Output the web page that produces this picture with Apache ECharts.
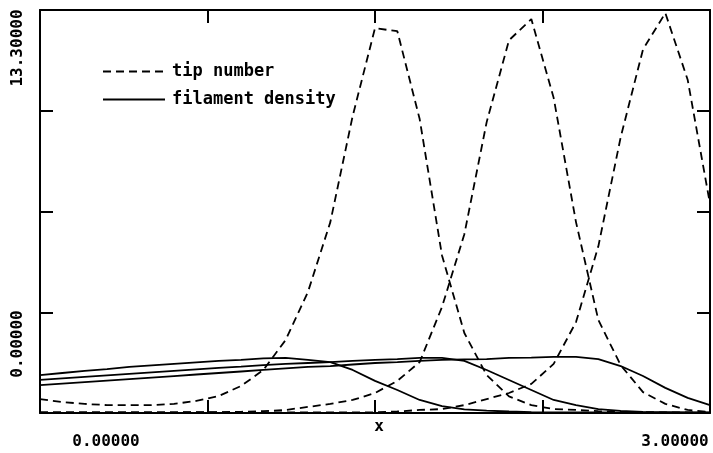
<!DOCTYPE html>
<html>
<head>
<meta charset="utf-8">
<script src="https://cdn.jsdelivr.net/npm/echarts@6/dist/echarts.min.js"></script>
<style>
	html, body { margin: 0; padding: 0; background: #fff; }
	#chart { width: 713px; height: 453px; }
</style>
</head>
<body>
<div id="chart"></div>
<script>
// x grid of the model output
var xs = [0, 0.1, 0.2, 0.3, 0.4, 0.5, 0.6, 0.7, 0.8, 0.9, 1.0, 1.1, 1.2, 1.3, 1.4, 1.5,
	1.6, 1.7, 1.8, 1.9, 2.0, 2.1, 2.2, 2.3, 2.4, 2.5, 2.6, 2.7, 2.8, 2.9, 3.0];

// tip number (dashed), three time steps
var tip1 = [0.46, 0.36, 0.30, 0.26, 0.26, 0.26, 0.30, 0.40, 0.56, 0.89, 1.42, 2.41, 4.0, 6.3, 9.8, 12.7,
	12.6, 9.7, 5.2, 2.64, 1.25, 0.55, 0.26, 0.13, 0.1, 0.06, 0.04, 0.03, 0.02, 0.02, 0.02];
var tip2 = [0.02, 0.02, 0.02, 0.02, 0.02, 0.02, 0.02, 0.03, 0.03, 0.04, 0.06, 0.1, 0.2, 0.3, 0.43, 0.66,
	1.06, 1.68, 3.5, 5.9, 9.6, 12.3, 13.0, 10.4, 6.3, 3.07, 1.58, 0.69, 0.3, 0.1, 0.03];
var tip3 = [0.02, 0.02, 0.02, 0.02, 0.02, 0.02, 0.02, 0.02, 0.02, 0.02, 0.02, 0.02, 0.02, 0.02, 0.02, 0.02,
	0.05, 0.1, 0.13, 0.26, 0.46, 0.66, 0.96, 1.62, 3.0, 5.5, 9.1, 12.0, 13.2, 11.0, 6.9];

// filament density (solid), three time steps
var fil1 = [1.25, 1.32, 1.39, 1.45, 1.52, 1.57, 1.62, 1.67, 1.72, 1.75, 1.80, 1.82, 1.75, 1.68, 1.42, 1.06,
	0.76, 0.43, 0.23, 0.12, 0.08, 0.05, 0.03, 0.02, 0.02, 0.02, 0.01, 0.01, 0.01, 0.01, 0.01];
var fil2 = [1.09, 1.14, 1.19, 1.24, 1.29, 1.34, 1.39, 1.44, 1.49, 1.53, 1.58, 1.62, 1.65, 1.68, 1.72, 1.75,
	1.78, 1.82, 1.82, 1.72, 1.42, 1.09, 0.76, 0.43, 0.26, 0.13, 0.07, 0.04, 0.03, 0.02, 0.02];
var fil3 = [0.92, 0.97, 1.02, 1.07, 1.12, 1.17, 1.22, 1.27, 1.32, 1.37, 1.42, 1.47, 1.52, 1.55, 1.60, 1.65,
	1.68, 1.72, 1.75, 1.77, 1.78, 1.82, 1.83, 1.85, 1.85, 1.78, 1.55, 1.22, 0.83, 0.50, 0.26];

var xLabels = ['0.00000', '3.00000'];
var yLabels = ['0.00000', '13.30000'];
var xName = 'x';

function pairs(ys) {
	return xs.map(function (x, i) { return [x, ys[i]]; });
}

var labelFont = 'bold 16px "DejaVu Sans Mono"';

function lineSeries(name, ys, dashed) {
	return {
		name: name,
		type: 'line',
		symbol: 'none',
		data: pairs(ys),
		lineStyle: { color: '#000', width: 1.8, type: dashed ? [8, 5] : 'solid' },
		itemStyle: { color: '#000' }
	};
}

function frameAxis(pos) {
	return {
		type: 'value',
		position: pos,
		min: 0,
		axisLine: { show: true, onZero: false, lineStyle: { color: '#000', width: 2 } },
		axisTick: { show: true, inside: true, length: 13, lineStyle: { color: '#000', width: 2 } },
		axisLabel: { show: false },
		splitLine: { show: false }
	};
}

var xBottom = frameAxis('bottom'); xBottom.max = 3; xBottom.interval = 0.75;
var xTop = frameAxis('top'); xTop.max = 3; xTop.interval = 0.75;
var yLeft = frameAxis('left'); yLeft.max = 13.3; yLeft.interval = 3.325;
var yRight = frameAxis('right'); yRight.max = 13.3; yRight.interval = 3.325;

var chart = echarts.init(document.getElementById('chart'));
chart.setOption({
	animation: false,
	backgroundColor: '#fff',
	grid: { left: 40, right: 3, top: 10, bottom: 40 },
	xAxis: [xBottom, xTop],
	yAxis: [yLeft, yRight],
	legend: {
		data: ['tip number', 'filament density'],
		orient: 'vertical',
		left: 97,
		top: 58,
		itemWidth: 62,
		itemHeight: 14,
		itemGap: 11,
		itemStyle: { opacity: 0 },
		textStyle: { fontFamily: 'DejaVu Sans Mono', fontWeight: 'bold', fontSize: 17, color: '#000', padding: [0, 0, 0, 2] }
	},
	graphic: [
		{ type: 'text', x: 106, y: 442, style: { text: xLabels[0], font: labelFont, fill: '#000', textAlign: 'center', textVerticalAlign: 'middle' } },
		{ type: 'text', x: 675, y: 442, style: { text: xLabels[1], font: labelFont, fill: '#000', textAlign: 'center', textVerticalAlign: 'middle' } },
		{ type: 'text', x: 379, y: 427, style: { text: xName, font: labelFont, fill: '#000', textAlign: 'center', textVerticalAlign: 'middle' } },
		{ type: 'text', x: 18, y: 344, rotation: Math.PI / 2, style: { text: yLabels[0], font: labelFont, fill: '#000', textAlign: 'center', textVerticalAlign: 'middle' } },
		{ type: 'text', x: 18, y: 48, rotation: Math.PI / 2, style: { text: yLabels[1], font: labelFont, fill: '#000', textAlign: 'center', textVerticalAlign: 'middle' } }
	],
	series: [
		lineSeries('tip number', tip1, true),
		lineSeries('tip number', tip2, true),
		lineSeries('tip number', tip3, true),
		lineSeries('filament density', fil1, false),
		lineSeries('filament density', fil2, false),
		lineSeries('filament density', fil3, false)
	]
});
</script>
</body>
</html>
